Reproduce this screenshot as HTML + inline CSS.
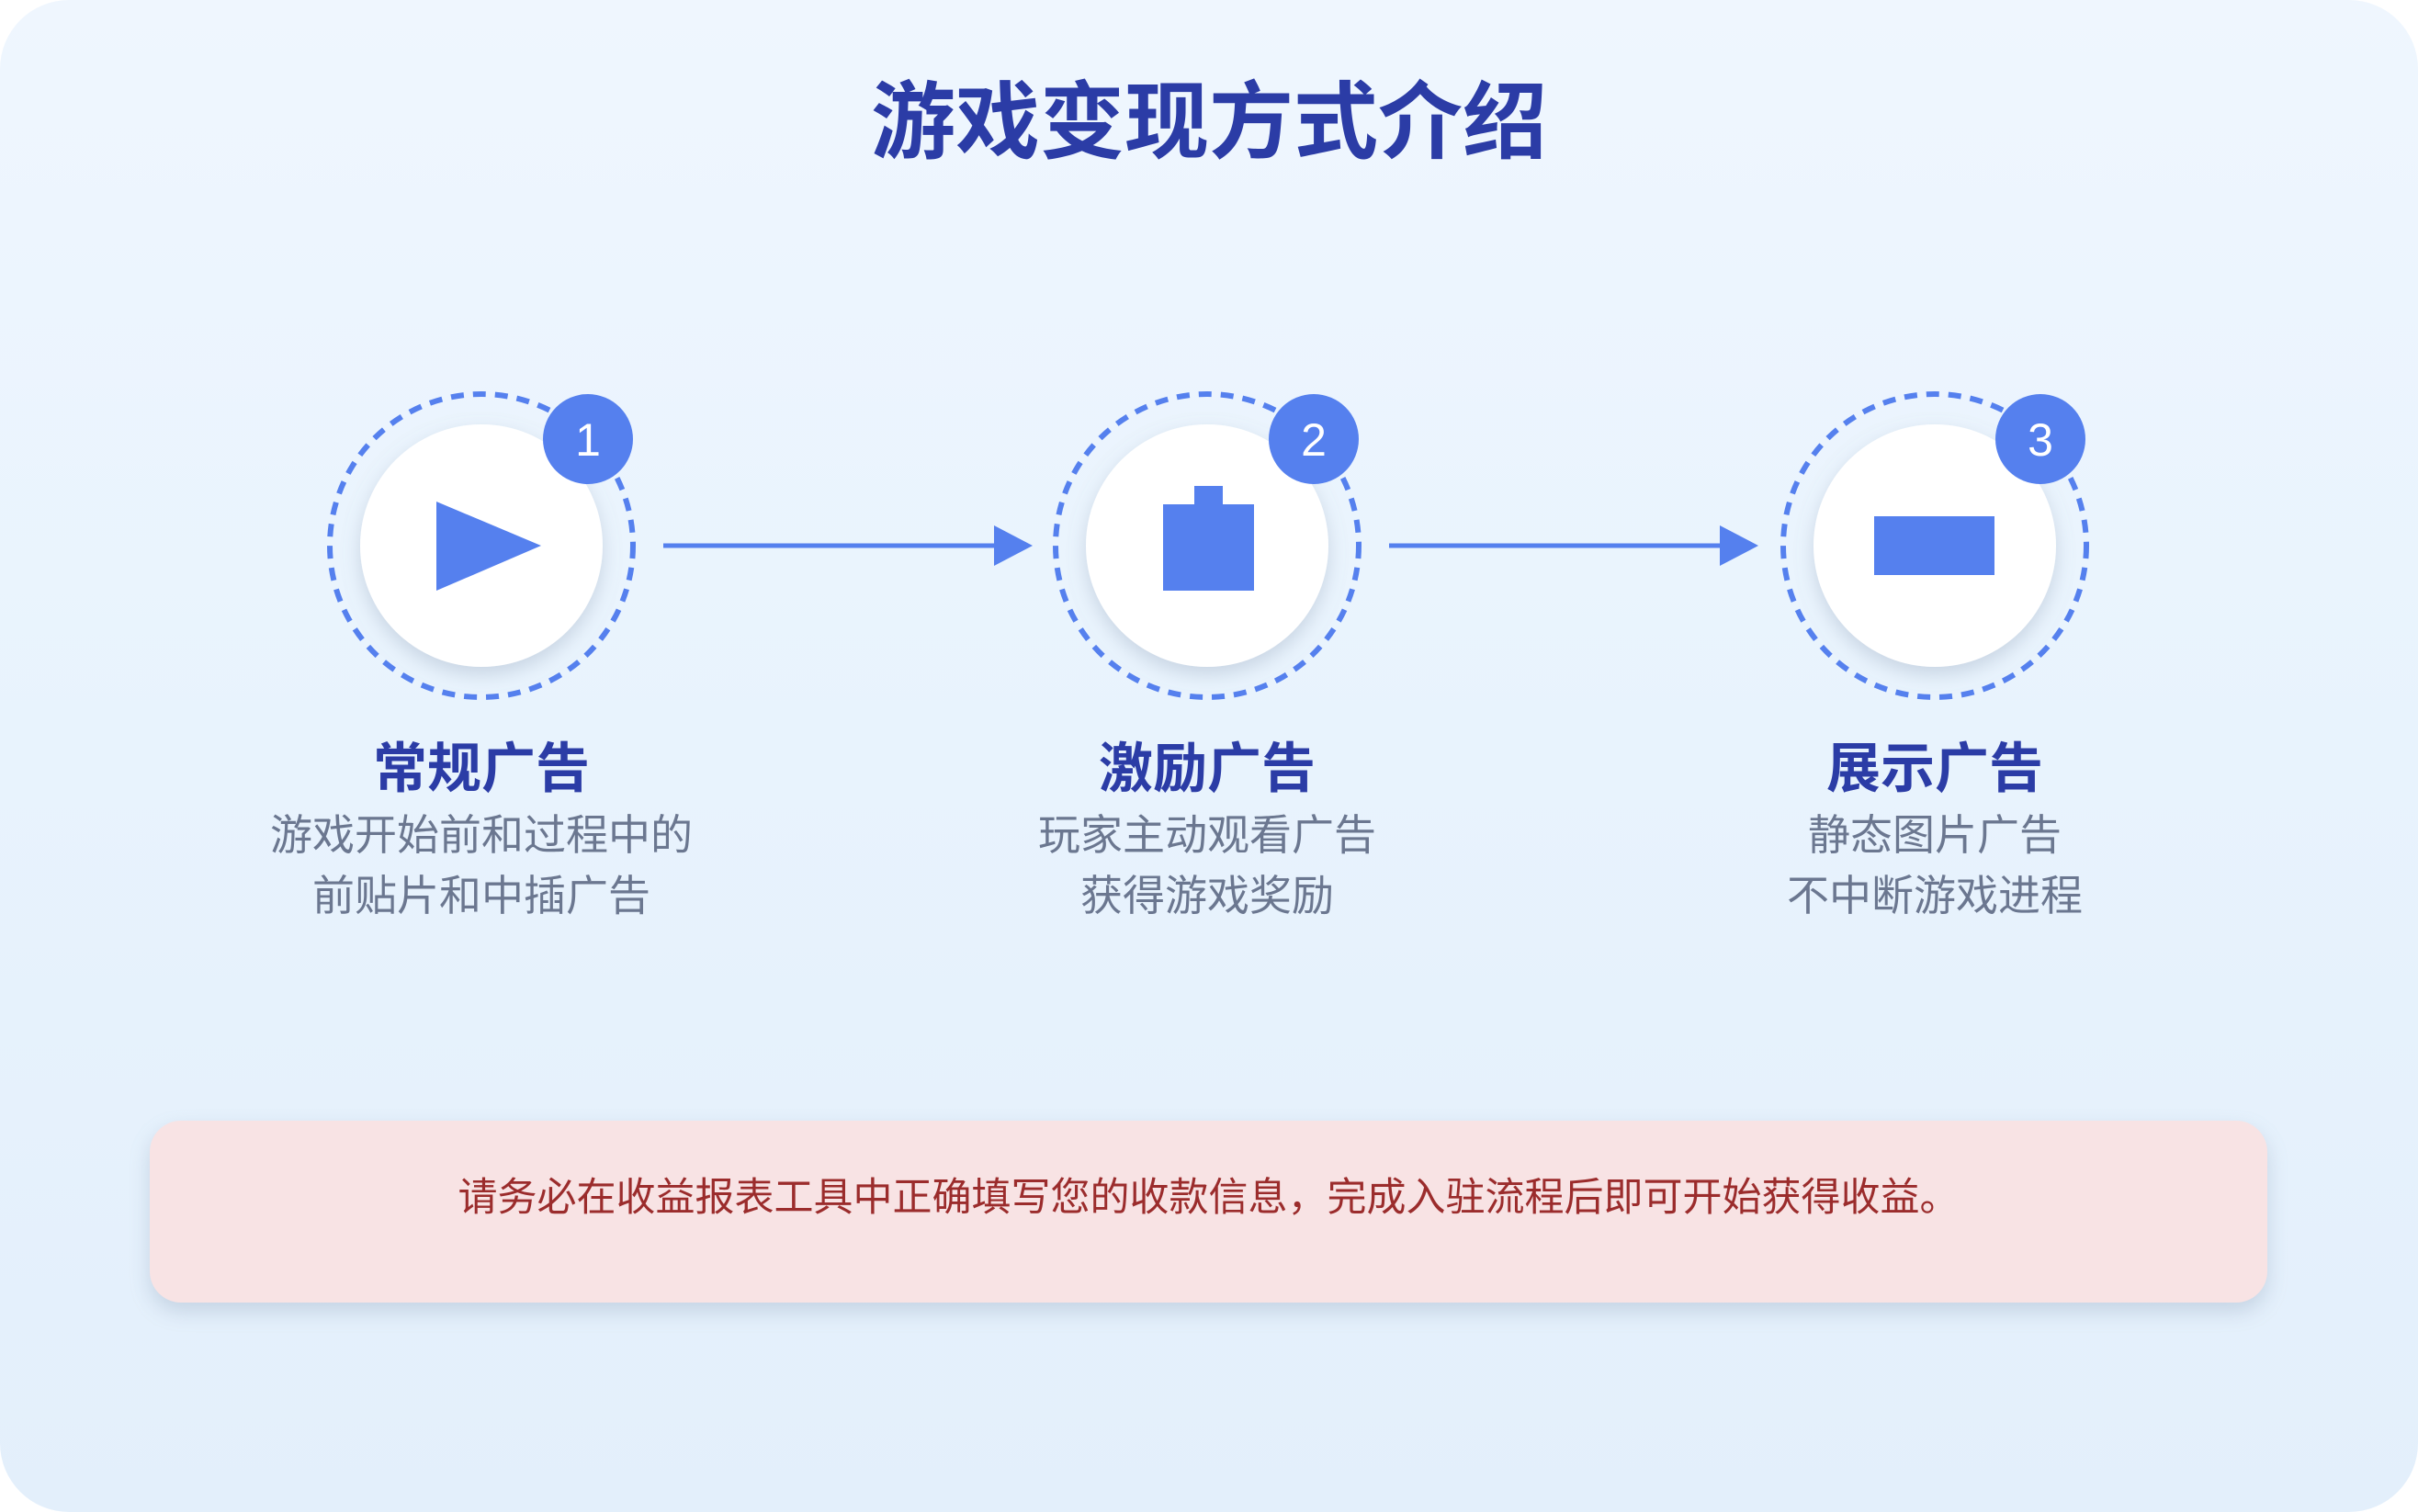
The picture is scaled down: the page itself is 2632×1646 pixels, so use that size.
<!DOCTYPE html>
<html><head><meta charset="utf-8"><style>
html,body{margin:0;padding:0;background:#fff;}
#c{position:relative;width:2632px;height:1646px;border-radius:75px;overflow:hidden;background:linear-gradient(180deg,#eff6fe 0%,#e8f3fd 50%,#e3effb 100%);font-family:"Liberation Sans","Noto Sans CJK SC",sans-serif;}
.t{position:absolute;left:0;width:100%;text-align:center;white-space:nowrap;}
.h{position:absolute;width:600px;text-align:center;font-size:59px;font-weight:bold;color:#2b3ca6;line-height:1;}
.d{position:absolute;width:600px;text-align:center;font-size:46px;color:#6b7790;line-height:66px;}
#box{position:absolute;left:163px;top:1220px;width:2305px;height:198px;border-radius:34px;background:#f8e3e4;box-shadow:0 10px 22px rgba(120,140,170,0.28);}
</style></head><body><div id="c">
<div class="t" style="top:88px;font-size:92px;font-weight:bold;color:#2b3ca6;line-height:1;">游戏变现方式介绍</div>
<svg width="2632" height="1646" style="position:absolute;left:0;top:0">
<defs><filter id="sh" x="-30%" y="-30%" width="160%" height="160%"><feDropShadow dx="0" dy="8" stdDeviation="10" flood-color="#7a8aa6" flood-opacity="0.3"/></filter></defs>
<g>
<circle cx="524" cy="594" r="165" fill="none" stroke="#5580ee" stroke-width="6" stroke-dasharray="14 10"/>
<circle cx="524" cy="594" r="132" fill="#fff" filter="url(#sh)"/>
<polygon points="475,546 589,594 475,643" fill="#5580ee"/>
<circle cx="640" cy="478" r="49" fill="#5580ee"/>
<text x="640" y="496" text-anchor="middle" font-size="50" fill="#fff" font-family="Liberation Sans, sans-serif">1</text>
</g>
<g>
<circle cx="1314" cy="594" r="165" fill="none" stroke="#5580ee" stroke-width="6" stroke-dasharray="14 10"/>
<circle cx="1314" cy="594" r="132" fill="#fff" filter="url(#sh)"/>
<rect x="1266" y="549" width="99" height="94" fill="#5580ee"/>
<rect x="1300" y="529" width="31" height="22" fill="#5580ee"/>
<circle cx="1430" cy="478" r="49" fill="#5580ee"/>
<text x="1430" y="496" text-anchor="middle" font-size="50" fill="#fff" font-family="Liberation Sans, sans-serif">2</text>
</g>
<g>
<circle cx="2106" cy="594" r="165" fill="none" stroke="#5580ee" stroke-width="6" stroke-dasharray="14 10"/>
<circle cx="2106" cy="594" r="132" fill="#fff" filter="url(#sh)"/>
<rect x="2040" y="562" width="131" height="64" fill="#5580ee"/>
<circle cx="2221" cy="478" r="49" fill="#5580ee"/>
<text x="2221" y="496" text-anchor="middle" font-size="50" fill="#fff" font-family="Liberation Sans, sans-serif">3</text>
</g>
<line x1="722" y1="594" x2="1084" y2="594" stroke="#5580ee" stroke-width="5"/>
<polygon points="1082,572 1124,594 1082,616" fill="#5580ee"/>
<line x1="1512" y1="594" x2="1874" y2="594" stroke="#5580ee" stroke-width="5"/>
<polygon points="1872,572 1914,594 1872,616" fill="#5580ee"/>
</svg>
<div class="h" style="left:224px;top:808px">常规广告</div>
<div class="d" style="left:224px;top:876px">游戏开始前和过程中的<br>前贴片和中插广告</div>
<div class="h" style="left:1014px;top:808px">激励广告</div>
<div class="d" style="left:1014px;top:876px">玩家主动观看广告<br>获得游戏奖励</div>
<div class="h" style="left:1806px;top:808px">展示广告</div>
<div class="d" style="left:1806px;top:876px">静态图片广告<br>不中断游戏进程</div>
<div id="box"><div class="t" style="top:63px;font-size:43px;color:#9b2c2c;line-height:1;">请务必在收益报表工具中正确填写您的收款信息，完成入驻流程后即可开始获得收益。</div></div>
</div></body></html>
